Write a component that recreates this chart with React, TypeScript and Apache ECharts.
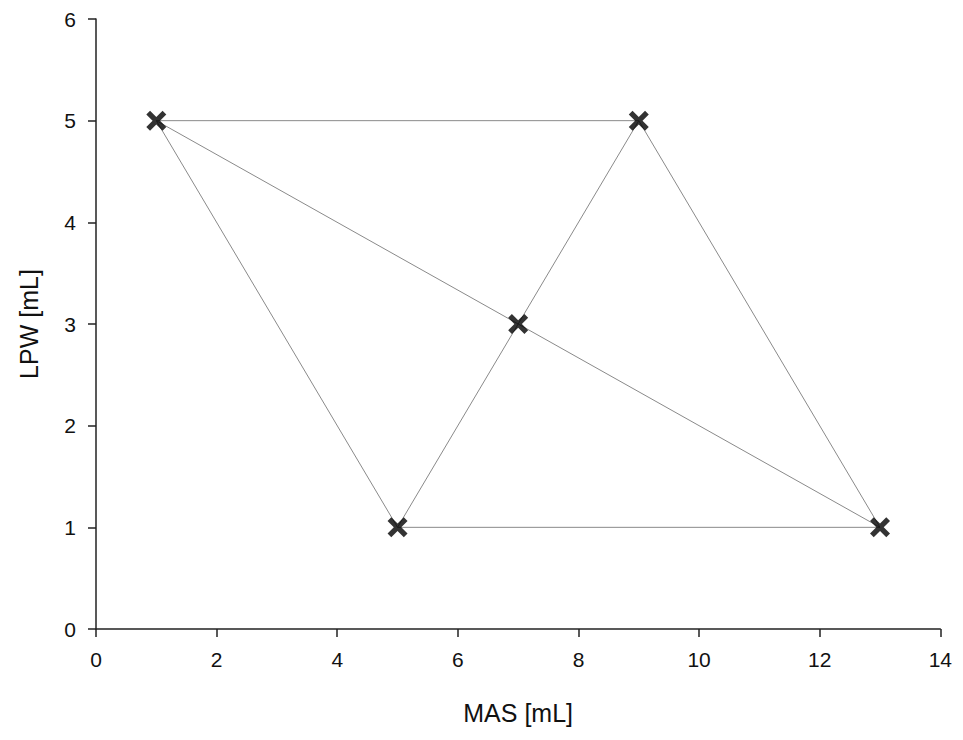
import React, { useEffect, useRef } from "react";
import * as echarts from "echarts";

const pointX = [1, 9, 7, 5, 13];
const pointY = [5, 5, 3, 1, 1];
// pairs of point indices joined by thin lines
const segments: [number, number][] = [
  [0, 1],
  [0, 4],
  [0, 3],
  [3, 4],
  [3, 1],
  [1, 4],
];
const xTitle = "MAS [mL]";
const yTitle = "LPW [mL]";

const FONT = "'Liberation Sans', Arial, sans-serif";
const PLUS =
  "path://M3.85,0L6.15,0L6.15,3.85L10,3.85L10,6.15L6.15,6.15L6.15,10L3.85,10L3.85,6.15L0,6.15L0,3.85L3.85,3.85Z";

export default function App() {
  const ref = useRef<HTMLDivElement>(null);
  useEffect(() => {
    if (!ref.current) return;
    const chart = echarts.init(ref.current, undefined, { renderer: "svg" });
    const lineSeries = segments.map(([a, b]) => ({
      type: "line" as const,
      data: [
        [pointX[a], pointY[a]],
        [pointX[b], pointY[b]],
      ],
      symbol: "none",
      lineStyle: { color: "#8a8a8a", width: 1 },
      silent: true,
      z: 1,
    }));
    chart.setOption({
      animation: false,
      grid: { left: 86, right: 12, top: 11, bottom: 103, containLabel: false },
      xAxis: {
        type: "value",
        min: 0,
        max: 14,
        interval: 2,
        name: xTitle,
        nameLocation: "middle",
        nameGap: 71,
        nameTextStyle: { fontFamily: FONT, fontSize: 25, color: "#111" },
        axisLine: { onZero: false, lineStyle: { color: "#222", width: 1.5 } },
        axisTick: { show: true, length: 8, inside: false, lineStyle: { color: "#222", width: 1.5 } },
        axisLabel: { fontFamily: FONT, fontSize: 21, color: "#111", margin: 20 },
        splitLine: { show: false },
      },
      yAxis: {
        type: "value",
        min: 0,
        max: 6,
        interval: 1,
        name: yTitle,
        nameLocation: "middle",
        nameGap: 55,
        nameTextStyle: { fontFamily: FONT, fontSize: 25, color: "#111" },
        axisLine: { show: true, onZero: false, lineStyle: { color: "#222", width: 1.5 } },
        axisTick: { show: true, length: 8, inside: false, lineStyle: { color: "#222", width: 1.5 } },
        axisLabel: { fontFamily: FONT, fontSize: 21, color: "#111", margin: 20 },
        splitLine: { show: false },
      },
      series: [
        ...lineSeries,
        {
          type: "scatter",
          data: pointX.map((x, i) => [x, pointY[i]]),
          symbol: PLUS,
          symbolSize: 23,
          symbolRotate: 45,
          itemStyle: { color: "#000" },
          z: 5,
        },
      ],
    });
    return () => chart.dispose();
  }, []);
  return <div ref={ref} style={{ width: 947, height: 724 }} />;
}
